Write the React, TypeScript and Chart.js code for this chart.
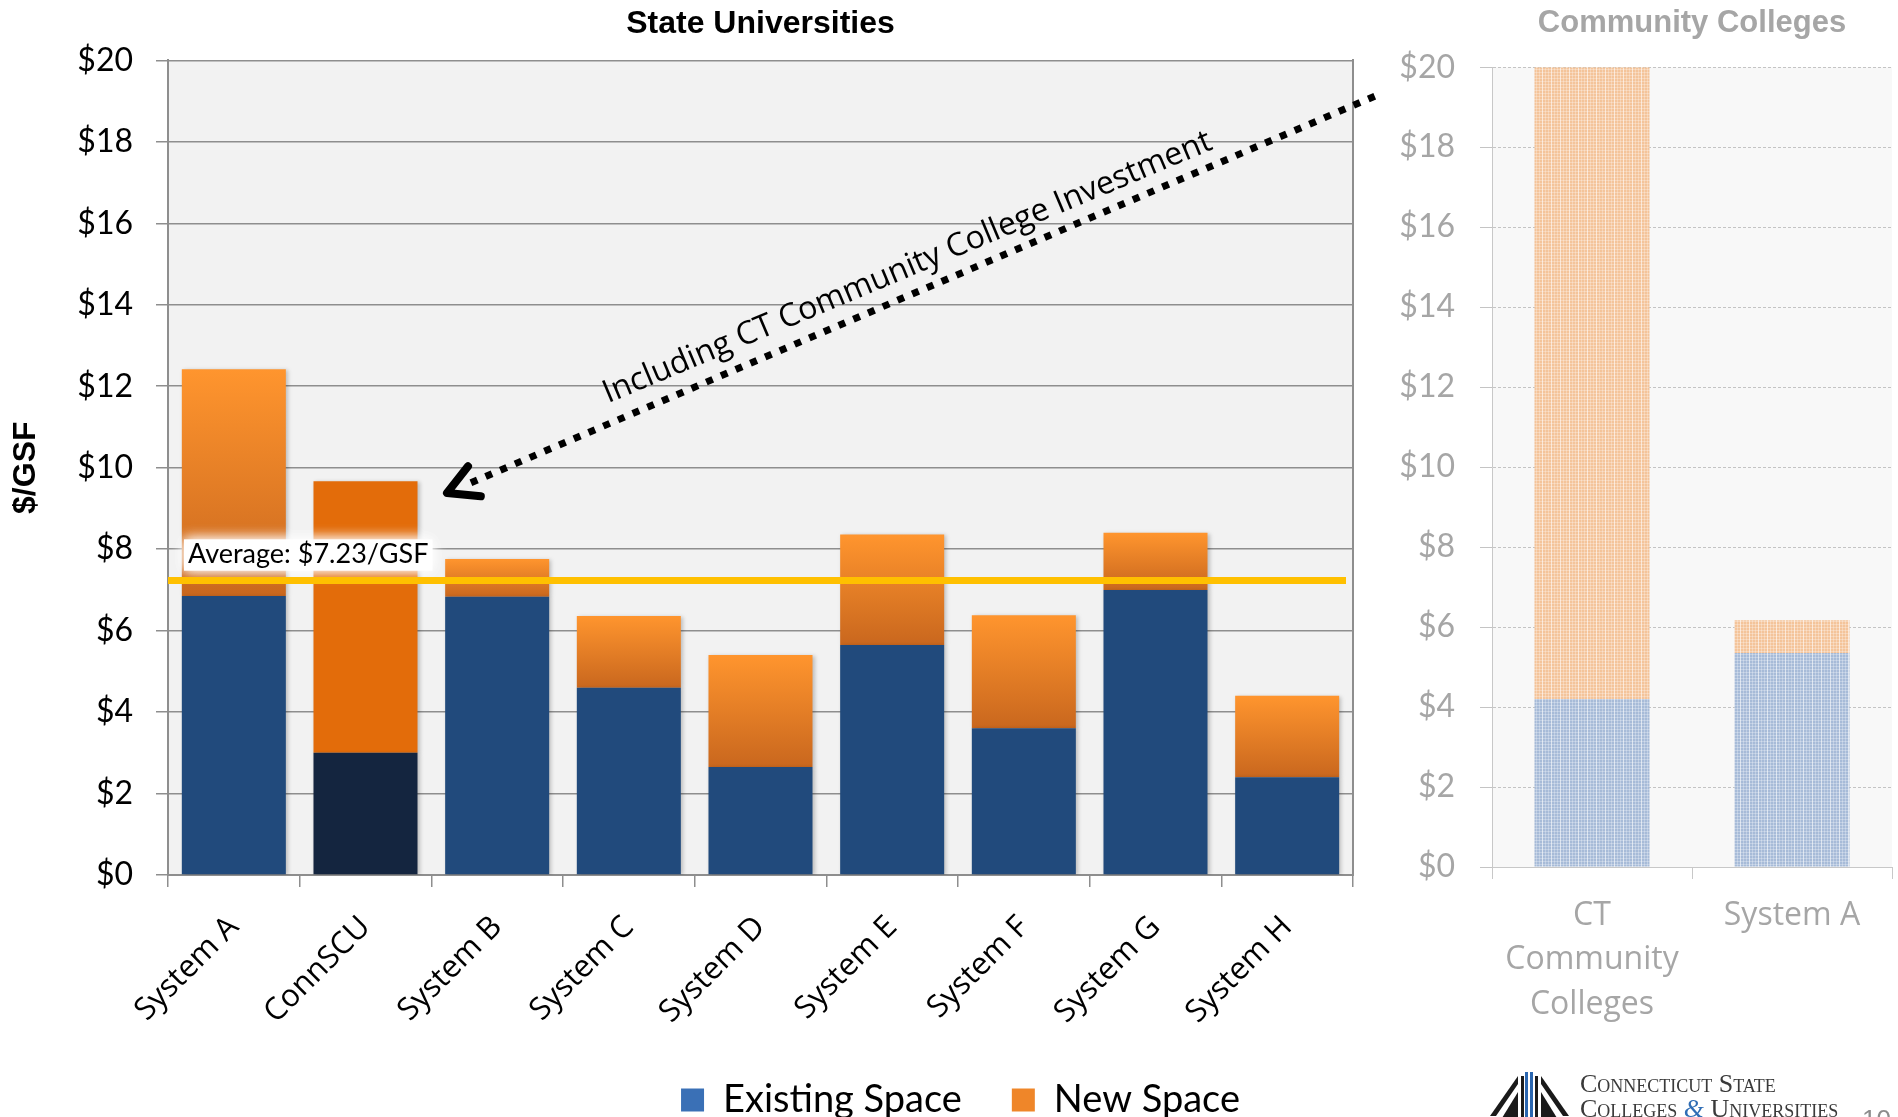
import React, { useEffect, useRef } from 'react';
import { Chart, registerables } from 'chart.js';

Chart.register(...registerables);

// ---------- data ----------
const categories = ['System A', 'ConnSCU', 'System B', 'System C', 'System D', 'System E', 'System F', 'System G', 'System H'];
const existingSpace = [6.85, 3.0, 6.83, 4.6, 2.65, 5.65, 3.6, 7.0, 2.4];
const newSpace = [5.57, 6.67, 0.93, 1.76, 2.75, 2.71, 2.78, 1.4, 2.0];
const averageValue = 7.23;

const ccCategories = [['CT', 'Community', 'Colleges'], 'System A'];
const ccExisting = [4.2, 5.35];
const ccNew = [15.8, 0.82];

const yTicks = [0, 2, 4, 6, 8, 10, 12, 14, 16, 18, 20];
const seriesNames = ['Existing Space', 'New Space'];
const annotationText = 'Including CT Community College Investment';

// ---------- styles ----------
const GRID = '#8E8E8E';
const FADED = '#A6A6A6';
const LEFT_W = 1921;
const LEFT_H = 1129;
const PLOT_BOTTOM = 875;

const money = (v: any) => (yTicks.includes(Number(v)) ? '$' + v : '');

const plotBg = {
  id: 'plotBg',
  beforeDraw(chart: any, _a: any, opts: any) {
    const { ctx, chartArea } = chart;
    if (!chartArea) return;
    ctx.save();
    ctx.fillStyle = opts.color || '#F2F2F2';
    ctx.fillRect(chartArea.left, chartArea.top, chartArea.right - chartArea.left, chartArea.bottom - chartArea.top);
    ctx.restore();
  },
};

const barShadow = {
  id: 'barShadow',
  beforeDatasetsDraw(chart: any) {
    const ctx = chart.ctx;
    ctx.save();
    ctx.shadowColor = 'rgba(0,0,0,0.22)';
    ctx.shadowBlur = 4;
    ctx.shadowOffsetX = 2;
    ctx.shadowOffsetY = 1;
  },
  afterDatasetsDraw(chart: any) {
    chart.ctx.restore();
  },
};

const averagePlugin = {
  id: 'averageLine',
  afterDatasetsDraw(chart: any) {
    const { ctx, chartArea, scales } = chart;
    const y = scales.y.getPixelForValue(averageValue);
    const text = 'Average: $' + averageValue.toFixed(2) + '/GSF';
    ctx.save();
    ctx.font = '27px Lato';
    const tw = ctx.measureText(text).width;
    const tx = chartArea.left + 20;
    const ty = y - 26;
    ctx.shadowColor = 'rgba(255,255,255,1)';
    ctx.shadowBlur = 14;
    ctx.fillStyle = 'rgba(255,255,255,0.9)';
    ctx.fillRect(tx - 4, ty - 15, tw + 8, 31);
    ctx.fillRect(tx - 4, ty - 15, tw + 8, 31);
    ctx.shadowBlur = 0;
    ctx.fillStyle = '#000';
    ctx.textBaseline = 'middle';
    ctx.textAlign = 'left';
    ctx.fillText(text, tx, ty);
    ctx.strokeStyle = '#FFC000';
    ctx.lineWidth = 7;
    ctx.beginPath();
    ctx.moveTo(chartArea.left, y);
    ctx.lineTo(chartArea.right - 7, y);
    ctx.stroke();
    ctx.restore();
  },
};

const arrowPlugin = {
  id: 'arrowNote',
  afterDraw(chart: any) {
    const ctx = chart.ctx;
    const sx = 1380, sy = 94, tx = 447, ty = 493;
    const ang = Math.atan2(sy - ty, sx - tx);
    ctx.save();
    ctx.strokeStyle = '#000';
    ctx.lineWidth = 7;
    ctx.setLineDash([7, 9]);
    ctx.beginPath();
    ctx.moveTo(tx + Math.cos(ang) * 26, ty + Math.sin(ang) * 26);
    ctx.lineTo(sx, sy);
    ctx.stroke();
    ctx.setLineDash([]);
    ctx.lineWidth = 8;
    ctx.lineJoin = 'round';
    ctx.lineCap = 'round';
    const L = 34, spread = 0.5;
    ctx.beginPath();
    ctx.moveTo(tx + Math.cos(ang - spread) * L, ty + Math.sin(ang - spread) * L);
    ctx.lineTo(tx, ty);
    ctx.lineTo(tx + Math.cos(ang + spread) * L, ty + Math.sin(ang + spread) * L);
    ctx.stroke();
    ctx.translate(911, 276);
    ctx.rotate((-22.8 * Math.PI) / 180);
    ctx.font = '32px "Open Sans"';
    ctx.fillStyle = '#000';
    ctx.textAlign = 'center';
    ctx.textBaseline = 'alphabetic';
    ctx.fillText(annotationText, 0, 0);
    ctx.restore();
  },
};

function makePattern(base: string) {
  const c = document.createElement('canvas');
  c.width = 9;
  c.height = 3;
  const g = c.getContext('2d') as CanvasRenderingContext2D;
  g.fillStyle = base;
  g.fillRect(0, 0, 9, 3);
  g.fillStyle = 'rgba(255,255,255,0.6)';
  g.fillRect(0, 0, 1, 3);
  g.fillStyle = 'rgba(255,255,255,0.28)';
  g.fillRect(3, 0, 1, 3);
  g.fillRect(6, 0, 1, 3);
  g.fillRect(0, 0, 9, 1);
  return g.createPattern(c, 'repeat');
}

function Logo() {
  return (
    <svg width={90} height={50} viewBox="1486 1068 90 50" style={{ position: 'absolute', left: 1486, top: 1068 }}>
      <polygon points="1518,1076 1518,1084 1496,1116 1490,1116" fill="#1a1a1a" />
      <polygon points="1518,1092 1518,1118 1502,1118" fill="#1a1a1a" />
      <polygon points="1541,1076 1541,1084 1563,1116 1569,1116" fill="#1a1a1a" />
      <polygon points="1541,1092 1541,1118 1557,1118" fill="#1a1a1a" />
      <rect x={1521} y={1076} width={3} height={42} fill="#1a1a1a" />
      <rect x={1525} y={1072} width={3} height={46} fill="#2a66b0" />
      <rect x={1530} y={1072} width={3} height={46} fill="#2a66b0" />
      <rect x={1535} y={1076} width={3} height={42} fill="#1a1a1a" />
    </svg>
  );
}

export default function App() {
  const leftRef = useRef<HTMLCanvasElement | null>(null);
  const rightRef = useRef<HTMLCanvasElement | null>(null);

  useEffect(() => {
    const orangeFill = (ctx: any) => {
      if (ctx.type !== 'data') return '#F08A2A';
      const i = ctx.dataIndex;
      if (i === 1) return '#E36C0A';
      const chart = ctx.chart;
      const ys = chart.scales && chart.scales.y;
      if (!ys) return '#F08A2A';
      const top = ys.getPixelForValue(existingSpace[i] + newSpace[i]);
      const bot = ys.getPixelForValue(existingSpace[i]);
      if (!isFinite(top) || !isFinite(bot) || Math.abs(bot - top) < 1) return '#F08A2A';
      const g = chart.ctx.createLinearGradient(0, top, 0, bot);
      g.addColorStop(0, '#FF952E');
      g.addColorStop(1, '#C9671E');
      return g;
    };
    const blueFill = (ctx: any) => (ctx.type === 'data' && ctx.dataIndex === 1 ? '#14253F' : '#214A7C');

    const left = new Chart(leftRef.current as HTMLCanvasElement, {
      type: 'bar',
      data: {
        labels: categories,
        datasets: [
          { label: seriesNames[0], data: existingSpace, backgroundColor: blueFill, borderWidth: 0, barPercentage: 0.79, categoryPercentage: 1 },
          { label: seriesNames[1], data: newSpace, backgroundColor: orangeFill, borderWidth: 0, barPercentage: 0.79, categoryPercentage: 1 },
        ],
      },
      options: {
        animation: false,
        responsive: false,
        maintainAspectRatio: false,
        layout: { padding: 0 },
        plugins: {
          plotBg: { color: '#F2F2F2' },
          title: {
            display: true,
            text: 'State Universities',
            fullSize: false,
            color: '#000',
            font: { family: 'Liberation Sans', size: 32, weight: 'bold' },
            padding: { top: 5, bottom: 17 },
          },
          legend: {
            display: true,
            position: 'bottom',
            labels: {
              font: { family: 'Lato', size: 38 },
              color: '#000',
              boxWidth: 23,
              boxHeight: 23,
              padding: 50,
              generateLabels: () => [
                { text: seriesNames[0], fillStyle: '#3A70B6', strokeStyle: 'rgba(0,0,0,0)', lineWidth: 0, hidden: false, datasetIndex: 0 },
                { text: seriesNames[1], fillStyle: '#EF8629', strokeStyle: 'rgba(0,0,0,0)', lineWidth: 0, hidden: false, datasetIndex: 1 },
              ],
            },
          },
          tooltip: { enabled: false },
        },
        scales: {
          x: {
            stacked: true,
            grid: { display: true, drawOnChartArea: false, drawTicks: true, tickLength: 12, offset: true, color: GRID, lineWidth: 1.5 },
            border: { display: true, color: GRID, width: 2 },
            ticks: {
              autoSkip: false,
              maxRotation: 45,
              minRotation: 45,
              padding: 22,
              color: '#000',
              font: { family: 'Open Sans', size: 31 },
            },
            afterFit: (s: any) => {
              const lg = s.chart.legend;
              const lh = lg && lg.height ? lg.height : 98;
              s.height = s.chart.height - PLOT_BOTTOM - lh;
            },
          },
          y: {
            stacked: true,
            min: 0,
            max: 20,
            ticks: { stepSize: 2, callback: money, padding: 23, color: '#000', font: { family: 'Lato', size: 32 } },
            grid: { color: GRID, lineWidth: 1.5, tickLength: 12 },
            border: { display: true, color: GRID, width: 2 },
            title: {
              display: true,
              text: '$/GSF',
              color: '#000',
              font: { family: 'Liberation Sans', size: 32, weight: 'bold' },
              padding: { top: 7, bottom: 0 },
            },
            afterFit: (s: any) => {
              s.width = 168;
            },
          },
          yRight: {
            position: 'right',
            display: true,
            min: 0,
            max: 20,
            grid: { display: false, drawTicks: false },
            ticks: { display: false },
            border: { display: true, color: GRID, width: 2 },
            afterFit: (s: any) => {
              s.width = LEFT_W - 1353;
            },
          },
        },
      } as any,
      plugins: [plotBg, barShadow, averagePlugin, arrowPlugin],
    });

    const orangePat = makePattern('#F4C49A');
    const bluePat = makePattern('#A7BBD8');

    const right = new Chart(rightRef.current as HTMLCanvasElement, {
      type: 'bar',
      data: {
        labels: ccCategories as any,
        datasets: [
          { label: seriesNames[0], data: ccExisting, backgroundColor: bluePat as any, borderWidth: 0, barPercentage: 0.575, categoryPercentage: 1 },
          { label: seriesNames[1], data: ccNew, backgroundColor: orangePat as any, borderWidth: 0, barPercentage: 0.575, categoryPercentage: 1 },
        ],
      },
      options: {
        animation: false,
        responsive: false,
        maintainAspectRatio: false,
        layout: { padding: { right: 6 } },
        plugins: {
          plotBg: { color: '#F8F8F8' },
          title: {
            display: true,
            text: 'Community Colleges',
            fullSize: false,
            color: FADED,
            font: { family: 'Liberation Sans', size: 31, weight: 'bold' },
            padding: { top: 5, bottom: 25 },
          },
          legend: { display: false },
          tooltip: { enabled: false },
        },
        scales: {
          x: {
            stacked: true,
            grid: { display: true, drawOnChartArea: false, drawTicks: true, tickLength: 12, offset: true, color: '#C8C8C8', lineWidth: 1 },
            border: { display: true, color: '#C8C8C8', width: 1 },
            ticks: {
              autoSkip: false,
              maxRotation: 0,
              minRotation: 0,
              padding: 14,
              color: FADED,
              font: { family: 'Open Sans', size: 32, lineHeight: 1.4 },
            },
            afterFit: (s: any) => {
              s.height = s.chart.height - 867;
            },
          },
          y: {
            stacked: true,
            min: 0,
            max: 20,
            ticks: { stepSize: 2, callback: money, padding: 25, color: FADED, font: { family: 'Lato', size: 32 } },
            grid: { color: '#C4C4C4', lineWidth: 1, tickLength: 12 },
            border: { display: true, color: '#C8C8C8', width: 1, dash: [3, 2] },
            afterFit: (s: any) => {
              s.width = 112;
            },
          },
        },
      } as any,
      plugins: [plotBg],
    });

    return () => {
      left.destroy();
      right.destroy();
    };
  }, []);

  return (
    <div style={{ position: 'absolute', left: 0, top: 0, width: 1898, height: 1117, overflow: 'hidden', background: '#fff' }}>
      <canvas ref={leftRef} width={LEFT_W} height={LEFT_H} style={{ position: 'absolute', left: 0, top: 0, width: LEFT_W, height: LEFT_H }} />
      <canvas ref={rightRef} width={518} height={1060} style={{ position: 'absolute', left: 1380, top: 0, width: 518, height: 1060 }} />
      <Logo />
      <div
        style={{
          position: 'absolute',
          left: 1580,
          top: 1071,
          fontFamily: '"Liberation Serif", serif',
          fontVariant: 'small-caps',
          fontSize: 26,
          lineHeight: '25px',
          color: '#3a3a3a',
          whiteSpace: 'nowrap',
        }}
      >
        <div>Connecticut State</div>
        <div>
          Colleges <span style={{ color: '#2f6db5', fontStyle: 'italic', fontVariant: 'normal' }}>&amp;</span> Universities
        </div>
      </div>
      <div style={{ position: 'absolute', left: 1862, top: 1106, fontFamily: '"Liberation Sans", sans-serif', fontSize: 26, lineHeight: '26px', color: '#8c8c8c' }}>10</div>
    </div>
  );
}
